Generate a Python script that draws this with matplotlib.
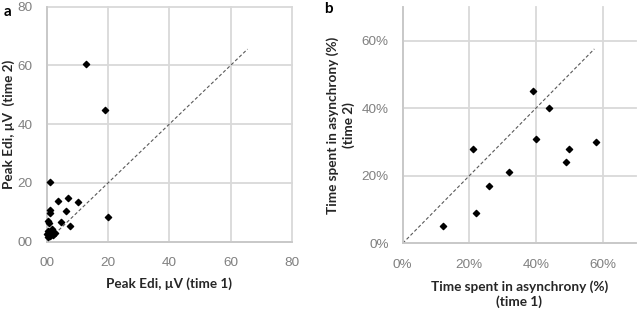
import matplotlib.pyplot as plt
from matplotlib.ticker import FixedLocator, FixedFormatter

# Panel a: peak Edi (µV), time 1 vs time 2
edi_time1 = [12.7, 18.9, 1.1, 20.0, 3.7, 7.0, 10.2, 1.1, 1.1, 6.2, 4.8, 7.6, 0.3, 0.8,
             0.5, 1.6, 2.2, 1.1, 0.2, 2.2, 1.1, 2.7, 0.5]
edi_time2 = [60.4, 44.9, 20.3, 8.4, 14.0, 14.9, 13.4, 10.7, 9.8, 10.3, 6.8, 5.4, 6.9, 6.2,
             3.7, 4.2, 3.4, 2.8, 2.5, 2.3, 1.9, 2.8, 1.7]
edi_ticks = [0, 20, 40, 60, 80]
edi_tick_labels = ["00", "20", "40", "60", "80"]
edi_identity = [0, 65.5]

# Panel b: time spent in asynchrony (%), time 1 vs time 2
async_time1 = [12, 22, 21, 26, 32, 39, 44, 40, 49, 50, 58]
async_time2 = [5, 9, 28, 17, 21, 45, 40, 31, 24, 28, 30]
async_ticks = [0, 20, 40, 60]
async_tick_labels = ["0%", "20%", "40%", "60%"]
async_identity = [0, 57.5]

plt.rcParams["font.family"] = ["Lato", "DejaVu Sans"]

GRID = "#d9d9d9"
TICK = "#808080"
LABEL = "#262626"

fig = plt.figure(figsize=(6.38, 3.13), dpi=100)
ax_a = fig.add_axes([46.7 / 638, 1 - 241.7 / 313, (292 - 46.7) / 638, (241.7 - 6.5) / 313])
ax_b = fig.add_axes([402.7 / 638, 1 - 243.3 / 313, (636 - 402.7) / 638, (243.3 - 6.7) / 313])


def style_axes(ax, ticks, labels, lim):
    ax.set_xlim(0, lim)
    ax.set_ylim(0, lim)
    ax.xaxis.set_major_locator(FixedLocator(ticks))
    ax.yaxis.set_major_locator(FixedLocator(ticks))
    ax.xaxis.set_major_formatter(FixedFormatter(labels))
    ax.yaxis.set_major_formatter(FixedFormatter(labels))
    ax.grid(True, color=GRID, linewidth=1.3, zorder=0)
    ax.set_axisbelow(True)
    for line in ax.get_xgridlines() + ax.get_ygridlines():
        line.set_clip_on(False)
    for side in ("top", "right"):
        ax.spines[side].set_visible(False)
    for side in ("left", "bottom"):
        ax.spines[side].set_color("#c8c8c8")
        ax.spines[side].set_linewidth(1.3)
    ax.tick_params(length=0, labelcolor=TICK)
    ax.tick_params(axis="x", pad=11)
    ax.tick_params(axis="y", pad=10)
    for lbl in ax.get_xticklabels() + ax.get_yticklabels():
        lbl.set_fontfamily("Liberation Sans")
        lbl.set_fontsize(9.7)


style_axes(ax_a, edi_ticks, edi_tick_labels, 80)
ax_a.plot(edi_identity, edi_identity, ls=(0, (3, 2)), color="#595959", lw=0.8, zorder=2)
ax_a.scatter(edi_time1, edi_time2, marker="D", s=10, color="black", zorder=3, clip_on=False)
ax_a.set_xlabel("Peak Edi, µV (time 1)", fontsize=9.7, fontweight="bold", color=LABEL, labelpad=6)
ax_a.set_ylabel("Peak Edi, µV  (time 2)", fontsize=9.7, fontweight="bold", color=LABEL)
ax_a.yaxis.set_label_coords(-0.128, 0.5)

style_axes(ax_b, async_ticks, async_tick_labels, 70)
ax_b.plot(async_identity, async_identity, ls=(0, (3, 2)), color="#595959", lw=0.8, zorder=2)
ax_b.scatter(async_time1, async_time2, marker="D", s=10, color="black", zorder=3)
ax_b.set_xlabel("Time spent in asynchrony (%)\n(time 1)", fontsize=9.8, fontweight="bold",
                color=LABEL, labelpad=7, linespacing=1.25)
ax_b.set_ylabel("Time spent in asynchrony (%)\n(time 2)", fontsize=9.8, fontweight="bold",
                color=LABEL, labelpad=5, linespacing=1.25)

fig.text(7.5 / 638, 1 - 11.5 / 313, "a", fontsize=11, fontweight="bold", ha="center", va="center")
fig.text(328 / 638, 1 - 9 / 313, "b", fontsize=11, fontweight="bold", ha="center", va="center")

fig.savefig("out.png", dpi=100)
